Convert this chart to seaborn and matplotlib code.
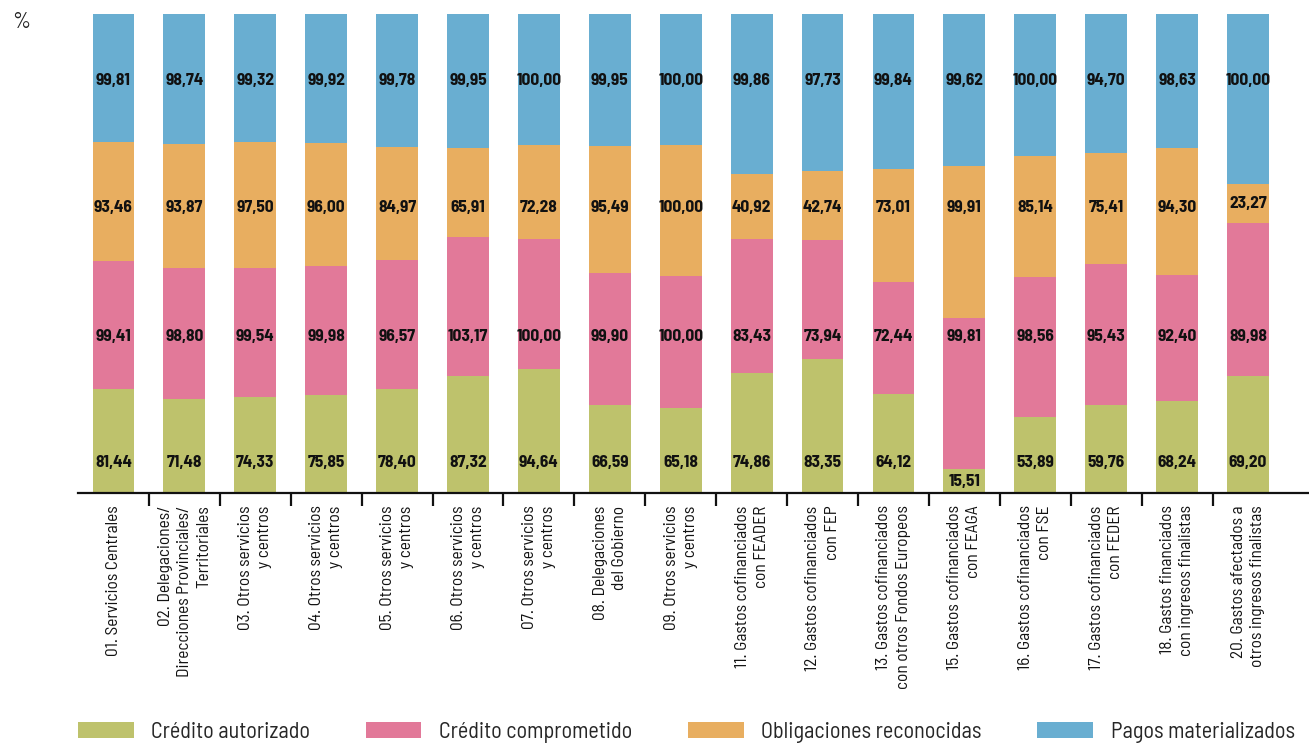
import numpy as np
import pandas as pd
import matplotlib
matplotlib.use('Agg')
import matplotlib.pyplot as plt
import seaborn as sns
from matplotlib.patches import Patch

# Data
categorias = [
    "01. Servicios Centrales",
    "02. Delegaciones/\nDirecciones Provinciales/\nTerritoriales",
    "03. Otros servicios\ny centros",
    "04. Otros servicios\ny centros",
    "05. Otros servicios\ny centros",
    "06. Otros servicios\ny centros",
    "07. Otros servicios\ny centros",
    "08. Delegaciones\ndel Gobierno",
    "09. Otros servicios\ny centros",
    "11. Gastos cofinanciados\ncon FEADER",
    "12. Gastos cofinanciados\ncon FEP",
    "13. Gastos cofinanciados\ncon otros Fondos Europeos",
    "15. Gastos cofinanciados\ncon FEAGA",
    "16. Gastos cofinanciados\ncon FSE",
    "17. Gastos cofinanciados\ncon FEDER",
    "18. Gastos financiados\ncon ingresos finalistas",
    "20. Gastos afectados a\notros ingresos finalistas",
]
credito_autorizado = [81.44, 71.48, 74.33, 75.85, 78.40, 87.32, 94.64, 66.59, 65.18,
                      74.86, 83.35, 64.12, 15.51, 53.89, 59.76, 68.24, 69.20]
credito_comprometido = [99.41, 98.80, 99.54, 99.98, 96.57, 103.17, 100.00, 99.90, 100.00,
                        83.43, 73.94, 72.44, 99.81, 98.56, 95.43, 92.40, 89.98]
obligaciones_reconocidas = [93.46, 93.87, 97.50, 96.00, 84.97, 65.91, 72.28, 95.49, 100.00,
                            40.92, 42.74, 73.01, 99.91, 85.14, 75.41, 94.30, 23.27]
pagos_materializados = [99.81, 98.74, 99.32, 99.92, 99.78, 99.95, 100.00, 99.95, 100.00,
                        99.86, 97.73, 99.84, 99.62, 100.00, 94.70, 98.63, 100.00]

series_names = ["Crédito autorizado", "Crédito comprometido",
                "Obligaciones reconocidas", "Pagos materializados"]
colors = ["#BEC26C", "#E27999", "#E8AE60", "#69AED1"]
# vertical row (share of axis height) where each series' labels sit
label_rows = [6.3, 32.6, 59.7, 86.2]

sns.set_theme(style='white')
narrow = ['Barlow Semi Condensed', 'Roboto Condensed', 'DejaVu Sans']
plt.rcParams['font.family'] = narrow

df = pd.DataFrame({
    'categoria': categorias,
    series_names[0]: credito_autorizado,
    series_names[1]: credito_comprometido,
    series_names[2]: obligaciones_reconocidas,
    series_names[3]: pagos_materializados,
})
vals = df[series_names].to_numpy()
shares = vals / vals.sum(axis=1, keepdims=True) * 100
cum = np.cumsum(shares, axis=1)
for j, name in enumerate(series_names):
    df['cum_' + name] = cum[:, j]

fig = plt.figure(figsize=(13.09, 7.43), dpi=100)
ax = fig.add_axes([78 / 1309, 1 - 493 / 743, 1 - 78 / 1309, 479 / 743])

# stacked bars: draw cumulative totals from the top series down
for j in range(len(series_names) - 1, -1, -1):
    sns.barplot(data=df, x='categoria', y='cum_' + series_names[j], order=categorias,
                color=colors[j], width=0.59, saturation=1, ax=ax, linewidth=0)

# value labels
for i in range(len(categorias)):
    for j in range(len(series_names)):
        lo = cum[i, j - 1] if j > 0 else 0.0
        hi = cum[i, j]
        y = label_rows[j]
        if y - lo < 4 or hi - y < 4:
            y = (lo + hi) / 2
        txt = f"{vals[i, j]:.2f}".replace('.', ',')
        ax.text(i, y, txt, ha='center', va='center', fontsize=12.5,
                fontweight='bold', color='#111111', family=narrow)

ax.set_ylim(0, 100)
ax.set_xlim(-0.5, len(categorias) - 1 + 0.86)
ax.set_xlabel('')
ax.set_ylabel('')
ax.set_yticks([])
for s in ['top', 'right', 'left']:
    ax.spines[s].set_visible(False)
ax.spines['bottom'].set_color('#111111')
ax.spines['bottom'].set_linewidth(1.6)

ax.set_xticks(range(len(categorias)))
ax.set_xticklabels(categorias, rotation=90, ha='center', va='top',
                   multialignment='right', fontsize=12.5, color='#111111',
                   linespacing=1.35)
ax.set_xticks(np.arange(len(categorias) - 1) + 0.5, minor=True)
ax.tick_params(axis='x', which='major', length=0, pad=9, bottom=True)
ax.tick_params(axis='x', which='minor', length=9, width=1.6, color='#111111',
               direction='out', bottom=True)

fig.text(12 / 1309, 1 - 22 / 743, '%', fontsize=16, ha='left', va='center',
         color='#222222')

handles = [Patch(facecolor=c, edgecolor='none') for c in colors]
fig.legend(handles, series_names, loc='lower left', bbox_to_anchor=(78 / 1309, 0.0),
           ncol=4, frameon=False, fontsize=16, handlelength=2.5, handleheight=0.7,
           handletextpad=0.8, columnspacing=2.5, borderaxespad=0, borderpad=0)

plt.savefig('out.png', dpi=100)
plt.close()
